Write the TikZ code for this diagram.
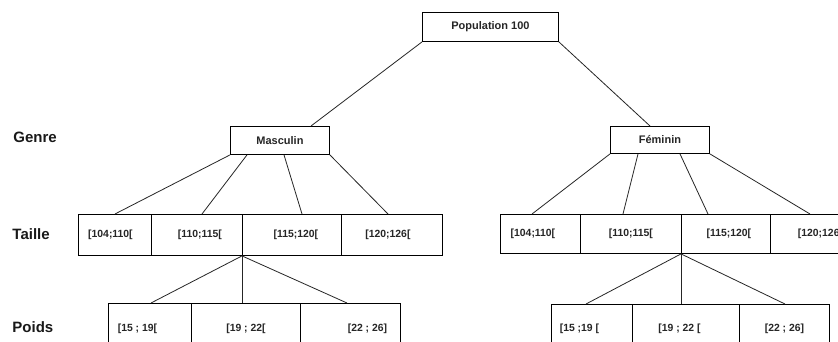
\documentclass[tikz,border=0pt]{standalone}
\usepackage{fontspec}
\setmainfont{Liberation Sans}
\newcommand{\shtxt}[2]{\makebox[0pt][c]{\hspace*{#1}#2}}
\begin{document}
\begin{tikzpicture}[x=1pt,y=-1pt,line width=0.9pt,
  box/.style={draw, inner sep=0pt, anchor=north west, text=black!85,
    font=\bfseries\fontsize{11}{13}\selectfont},
  cell/.style={draw, inner sep=0pt, anchor=north west, text=black!85,
    font=\bfseries\fontsize{10.4}{12}\selectfont},
  lbl/.style={anchor=base west, inner sep=0pt, text=black!90,
    font=\bfseries\fontsize{15}{18}\selectfont},
  link/.style={line width=0.8pt, black!85}]
\useasboundingbox (0,0) rectangle (838,341);
\clip (0,0) rectangle (838,341);
\fill[white] (0,0) rectangle (838,341);
% top
\node[box, minimum width=136pt, minimum height=29pt] (pop) at (422,12) {Population 100};
\node[box, minimum width=99pt, minimum height=28pt] (m) at (230,126) {Masculin};
\node[box, minimum width=99pt, minimum height=27pt] (f) at (610,126) {Féminin};
% labels
\node[lbl] (lg) at (13,142) {Genre};
\node[lbl] (lt) at (12,239) {Taille};
\node[lbl] (lp) at (12,332) {Poids};
% Taille left
\node[cell, minimum width=73pt, minimum height=41pt] (t1) at (78,214) {\shtxt{-9pt}{[104;110[}};
\node[cell, minimum width=91pt, minimum height=41pt] (t2) at (151,214) {\shtxt{6pt}{[110;115[}};
\node[cell, minimum width=99pt, minimum height=41pt] (t3) at (242,214) {\shtxt{8pt}{[115;120[}};
\node[cell, minimum width=101pt, minimum height=41pt] (t4) at (341,214) {\shtxt{-8pt}{[120;126[}};
% Taille right
\node[cell, minimum width=80pt, minimum height=39pt] (t5) at (500,214) {\shtxt{-15pt}{[104;110[}};
\node[cell, minimum width=101pt, minimum height=39pt] (t6) at (580,214) {\shtxt{0pt}{[110;115[}};
\node[cell, minimum width=89pt, minimum height=39pt] (t7) at (681,214) {\shtxt{6pt}{[115;120[}};
\node[cell, minimum width=100pt, minimum height=39pt] (t8) at (770,214) {\shtxt{0pt}{[120;126[}};
% Poids left
\node[cell, minimum width=83pt, minimum height=50pt] (p1) at (108,303) {\shtxt{-25pt}{[15 ; 19[}};
\node[cell, minimum width=109pt, minimum height=50pt] (p2) at (191,303) {\shtxt{0pt}{[19 ; 22[}};
\node[cell, minimum width=100pt, minimum height=50pt] (p3) at (300,303) {\shtxt{34pt}{[22 ; 26]}};
% Poids right
\node[cell, minimum width=81pt, minimum height=48pt] (p4) at (551,304) {\shtxt{-25pt}{[15 ;19 [}};
\node[cell, minimum width=107pt, minimum height=48pt] (p5) at (632,304) {\shtxt{-13pt}{[19 ; 22 [}};
\node[cell, minimum width=90pt, minimum height=48pt] (p6) at (739,304) {\shtxt{0pt}{[22 ; 26]}};
% connectors
\draw[link] (pop.south west) -- ([xshift=81pt]m.north west);
\draw[link] (pop.south east) -- ([xshift=40pt]f.north west);
\draw[link] (m.south west) -- (t1.north);
\draw[link] ([xshift=17pt]m.south west) -- ([xshift=51pt]t2.north west);
\draw[link] ([xshift=54pt]m.south west) -- ([xshift=60pt]t3.north west);
\draw[link] (m.south east) -- ([xshift=47pt]t4.north west);
\draw[link] (f.south west) -- ([xshift=32pt]t5.north west);
\draw[link] ([xshift=28pt]f.south west) -- ([xshift=43pt]t6.north west);
\draw[link] ([xshift=70pt]f.south west) -- ([xshift=27pt]t7.north west);
\draw[link] (f.south east) -- ([xshift=40pt]t8.north west);
\draw[link] (t3.south west) -- ([xshift=43pt]p1.north west);
\draw[link] (t3.south west) -- (t3.south west |- p2.north);
\draw[link] (t3.south west) -- ([xshift=47pt]p3.north west);
\draw[link] (t7.south west) -- ([xshift=35pt]p4.north west);
\draw[link] (t7.south west) -- (t7.south west |- p5.north);
\draw[link] (t7.south west) -- ([xshift=46pt]p6.north west);
\end{tikzpicture}
\end{document}
